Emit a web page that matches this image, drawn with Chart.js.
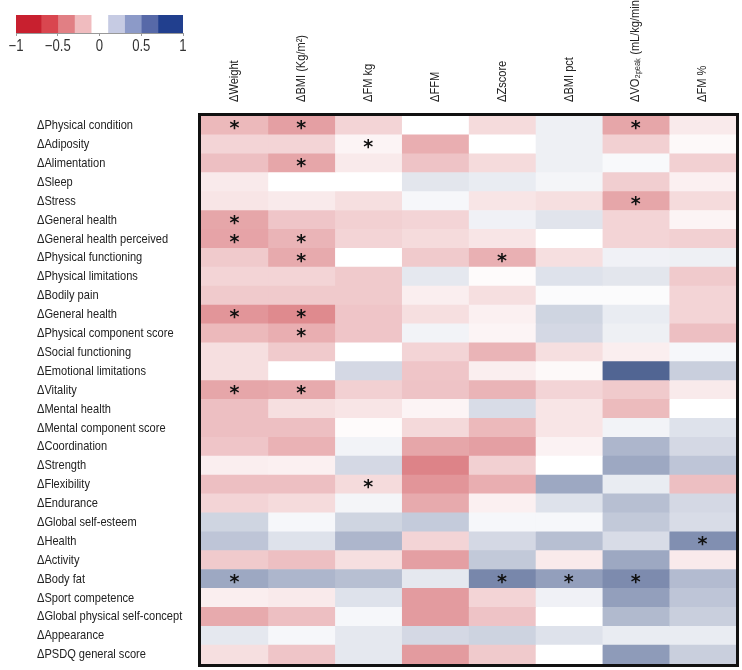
<!DOCTYPE html>
<html>
<head>
<meta charset="utf-8">
<script src="https://cdn.jsdelivr.net/npm/chart.js@4.4.1/dist/chart.umd.min.js"></script>
<style>
  body { margin: 0; background: #fff; }
  #wrap { position: relative; width: 742px; height: 670px; }
  #heat { position: absolute; left: 0; top: 0; }
  #scaleBar { position: absolute; left: 0; top: 0; }
</style>
</head>
<body>
<div id="wrap">
  <canvas id="heat" width="742" height="670"></canvas>
  <canvas id="scaleBar" width="200" height="62"></canvas>
</div>
<script>
// rows and columns of the correlation matrix
const rowLabels = [
  "ΔPhysical condition", "ΔAdiposity", "ΔAlimentation", "ΔSleep", "ΔStress",
  "ΔGeneral health", "ΔGeneral health perceived", "ΔPhysical functioning",
  "ΔPhysical limitations", "ΔBodily pain", "ΔGeneral health",
  "ΔPhysical component score", "ΔSocial functioning", "ΔEmotional limitations",
  "ΔVitality", "ΔMental health", "ΔMental component score", "ΔCoordination",
  "ΔStrength", "ΔFlexibility", "ΔEndurance", "ΔGlobal self-esteem", "ΔHealth",
  "ΔActivity", "ΔBody fat", "ΔSport competence", "ΔGlobal physical self-concept",
  "ΔAppearance", "ΔPSDQ general score"
];
const colLabels = ["ΔWeight", "ΔBMI (Kg/m²)", "ΔFM kg", "ΔFFM", "ΔZscore", "ΔBMI pct",
  "ΔVO₂ₚₑₐₖ (mL/kg/min)", "ΔFM %"];

// correlation values, one array per column (top row first)
const weight  = [-0.33,-0.2,-0.3,-0.1,-0.12,-0.42,-0.43,-0.25,-0.2,-0.25,-0.5,-0.33,-0.15,-0.15,-0.42,-0.3,-0.3,-0.27,-0.08,-0.3,-0.2,0.22,0.3,-0.25,0.45,-0.08,-0.4,0.12,-0.15];
const bmi     = [-0.45,-0.2,-0.42,0,-0.1,-0.27,-0.35,-0.4,-0.2,-0.25,-0.55,-0.38,-0.25,0,-0.4,-0.15,-0.3,-0.36,-0.07,-0.3,-0.17,0.04,0.15,-0.3,0.38,-0.1,-0.3,0.04,-0.27];
const fmKg    = [-0.2,-0.05,-0.1,0,-0.15,-0.22,-0.2,0,-0.25,-0.25,-0.27,-0.27,0,0.2,-0.22,-0.12,-0.02,0.06,0.2,-0.17,0.05,0.22,0.38,-0.15,0.33,0.15,0.04,0.12,0.12];
const ffm     = [0,-0.38,-0.28,0.13,0.04,-0.2,-0.17,-0.25,0.12,-0.08,-0.15,0.06,-0.2,-0.27,-0.28,-0.05,-0.18,-0.42,-0.58,-0.5,-0.4,0.27,-0.2,-0.45,0.12,-0.47,-0.47,0.2,-0.47];
const zScore  = [-0.17,0,-0.17,0.1,-0.12,0.07,-0.12,-0.37,-0.02,-0.15,-0.07,-0.05,-0.35,-0.08,-0.35,0.18,-0.33,-0.45,-0.22,-0.38,-0.07,0.04,0.2,0.28,0.62,-0.2,-0.28,0.23,-0.25];
const bmiPct  = [0.08,0.08,0.08,0.05,-0.15,0.14,0,-0.15,0.15,0.02,0.22,0.2,-0.15,-0.03,-0.2,-0.12,-0.12,-0.06,0,0.45,0.15,0.04,0.33,-0.1,0.5,0.07,0,0.15,0];
const vo2peak = [-0.42,-0.22,0.03,-0.23,-0.42,-0.2,-0.2,0.07,0.13,0.02,0.1,0.08,-0.08,0.8,-0.25,-0.32,0.06,0.38,0.45,0.1,0.33,0.28,0.18,0.45,0.6,0.5,0.36,0.1,0.52];
const fmPct   = [-0.1,-0.03,-0.22,-0.07,-0.17,-0.05,-0.22,0.08,-0.25,-0.2,-0.2,-0.3,0.04,0.25,-0.1,0,0.15,0.2,0.3,-0.3,0.2,0.18,0.58,-0.1,0.35,0.3,0.25,0.1,0.25];

// significant cells [row, column]
const starCells = [[0,0],[0,1],[0,6],[1,2],[2,1],[4,6],[5,0],[6,0],[6,1],[7,1],[7,4],
  [10,0],[10,1],[11,1],[14,0],[14,1],[19,2],[22,7],[24,0],[24,4],[24,5],[24,6]];

// colour scale legend
const legendEdges = [-1, -0.7, -0.5, -0.3, -0.1, 0.1, 0.3, 0.5, 0.7, 1];
const legendColors = ["#c8202f", "#d9464f", "#e17f84", "#f0bcbf", "#ffffff",
  "#c6cbe3", "#8c9ac8", "#5769a8", "#213f8e"];
const legendTicks = [-1, -0.5, 0, 0.5, 1];

const columns = [weight, bmi, fmKg, ffm, zScore, bmiPct, vo2peak, fmPct];
const labelFont = '"Liberation Sans", "Arimo", sans-serif';
const narrow = 0.82; // the original uses a condensed face

function cellColor(v) {
  const t = Math.min(Math.abs(v), 1);
  const target = v < 0 ? [196, 42, 50] : [38, 62, 120];
  const c = target.map(ch => Math.round(255 - (255 - ch) * t));
  return "rgb(" + c.join(",") + ")";
}

function narrowText(ctx, text, x, y, angle) {
  ctx.save();
  ctx.translate(x, y);
  if (angle) ctx.rotate(angle);
  ctx.scale(narrow, 1);
  ctx.fillText(text, 0, 0);
  ctx.restore();
}

const starPlugin = {
  id: "stars",
  afterDatasetsDraw(chart) {
    const { ctx, scales: { x, y } } = chart;
    ctx.save();
    ctx.font = 'bold 19px "DejaVu Sans"';
    ctx.fillStyle = "#111";
    ctx.textAlign = "center";
    const m = ctx.measureText("*");
    const shift = (m.actualBoundingBoxAscent - m.actualBoundingBoxDescent) / 2;
    starCells.forEach(([r, c]) => {
      ctx.fillText("*", x.getPixelForValue(c + 0.5), y.getPixelForValue(r) + shift);
    });
    ctx.restore();
  }
};

// frame + condensed axis labels
const framePlugin = {
  id: "frame",
  afterDraw(chart) {
    const { ctx, chartArea: a, scales: { x2, y } } = chart;
    ctx.save();
    ctx.lineWidth = 3;
    ctx.strokeStyle = "#111";
    ctx.strokeRect(a.left - 1.5, a.top - 1.5, a.right - a.left + 3, a.bottom - a.top + 3);

    ctx.fillStyle = "#222";
    ctx.font = "13.5px " + labelFont;
    ctx.textAlign = "left";
    ctx.textBaseline = "middle";
    rowLabels.forEach((t, i) => narrowText(ctx, t, 37, y.getPixelForTick(i), 0));
    colLabels.forEach((t, i) => narrowText(ctx, t, x2.getPixelForTick(i), a.top - 14, -Math.PI / 2));
    ctx.restore();
  }
};

new Chart(document.getElementById("heat"), {
  type: "bar",
  data: {
    labels: rowLabels,
    datasets: columns.map((vals, c) => ({
      label: colLabels[c],
      data: vals.map(() => [c, c + 1]),
      backgroundColor: vals.map(cellColor),
      grouped: false,
      barPercentage: 1,
      categoryPercentage: 1,
      borderWidth: 0
    }))
  },
  options: {
    indexAxis: "y",
    responsive: false,
    animation: false,
    layout: { padding: { left: 37, right: 6, bottom: 6, top: 0 } },
    plugins: { legend: { display: false }, tooltip: { enabled: false } },
    scales: {
      x: { type: "linear", min: 0, max: 8, display: false },
      x2: {
        type: "category",
        labels: colLabels,
        position: "top",
        offset: true,
        grid: { display: false, drawTicks: false },
        border: { display: false },
        ticks: { display: false },
        afterFit: s => { s.height = 116; }
      },
      y: {
        type: "category",
        grid: { display: false, drawTicks: false },
        border: { display: false },
        ticks: { display: false, autoSkip: false },
        afterFit: s => { s.width = 164; }
      }
    }
  },
  plugins: [starPlugin, framePlugin]
});

// colour bar legend
const legendTickPlugin = {
  id: "legendTicks",
  afterDraw(chart) {
    const { ctx, scales: { x }, chartArea: a } = chart;
    ctx.save();
    ctx.fillStyle = "#333";
    ctx.font = "16px " + labelFont;
    ctx.textAlign = "center";
    ctx.textBaseline = "middle";
    legendTicks.forEach(v => {
      const txt = v < 0 ? "\u2212" + Math.abs(v) : String(v);
      narrowText(ctx, txt, x.getPixelForValue(v), a.bottom + 14, 0);
    });
    ctx.restore();
  }
};

new Chart(document.getElementById("scaleBar"), {
  type: "bar",
  data: {
    labels: ["r"],
    datasets: legendColors.map((col, i) => ({
      data: [[legendEdges[i], legendEdges[i + 1]]],
      backgroundColor: col,
      grouped: false,
      barPercentage: 1,
      categoryPercentage: 1,
      borderWidth: 0
    }))
  },
  options: {
    indexAxis: "y",
    responsive: false,
    animation: false,
    layout: { padding: { left: 16, right: 17, top: 15 } },
    plugins: { legend: { display: false }, tooltip: { enabled: false } },
    scales: {
      y: { display: false },
      x: {
        type: "linear", min: -1, max: 1,
        grid: { drawOnChartArea: false, tickLength: 3, color: "#999" },
        border: { color: "#999" },
        ticks: { stepSize: 0.5, display: false },
        afterFit: s => { s.height = 29; }
      }
    }
  },
  plugins: [legendTickPlugin]
});
</script>
</body>
</html>
